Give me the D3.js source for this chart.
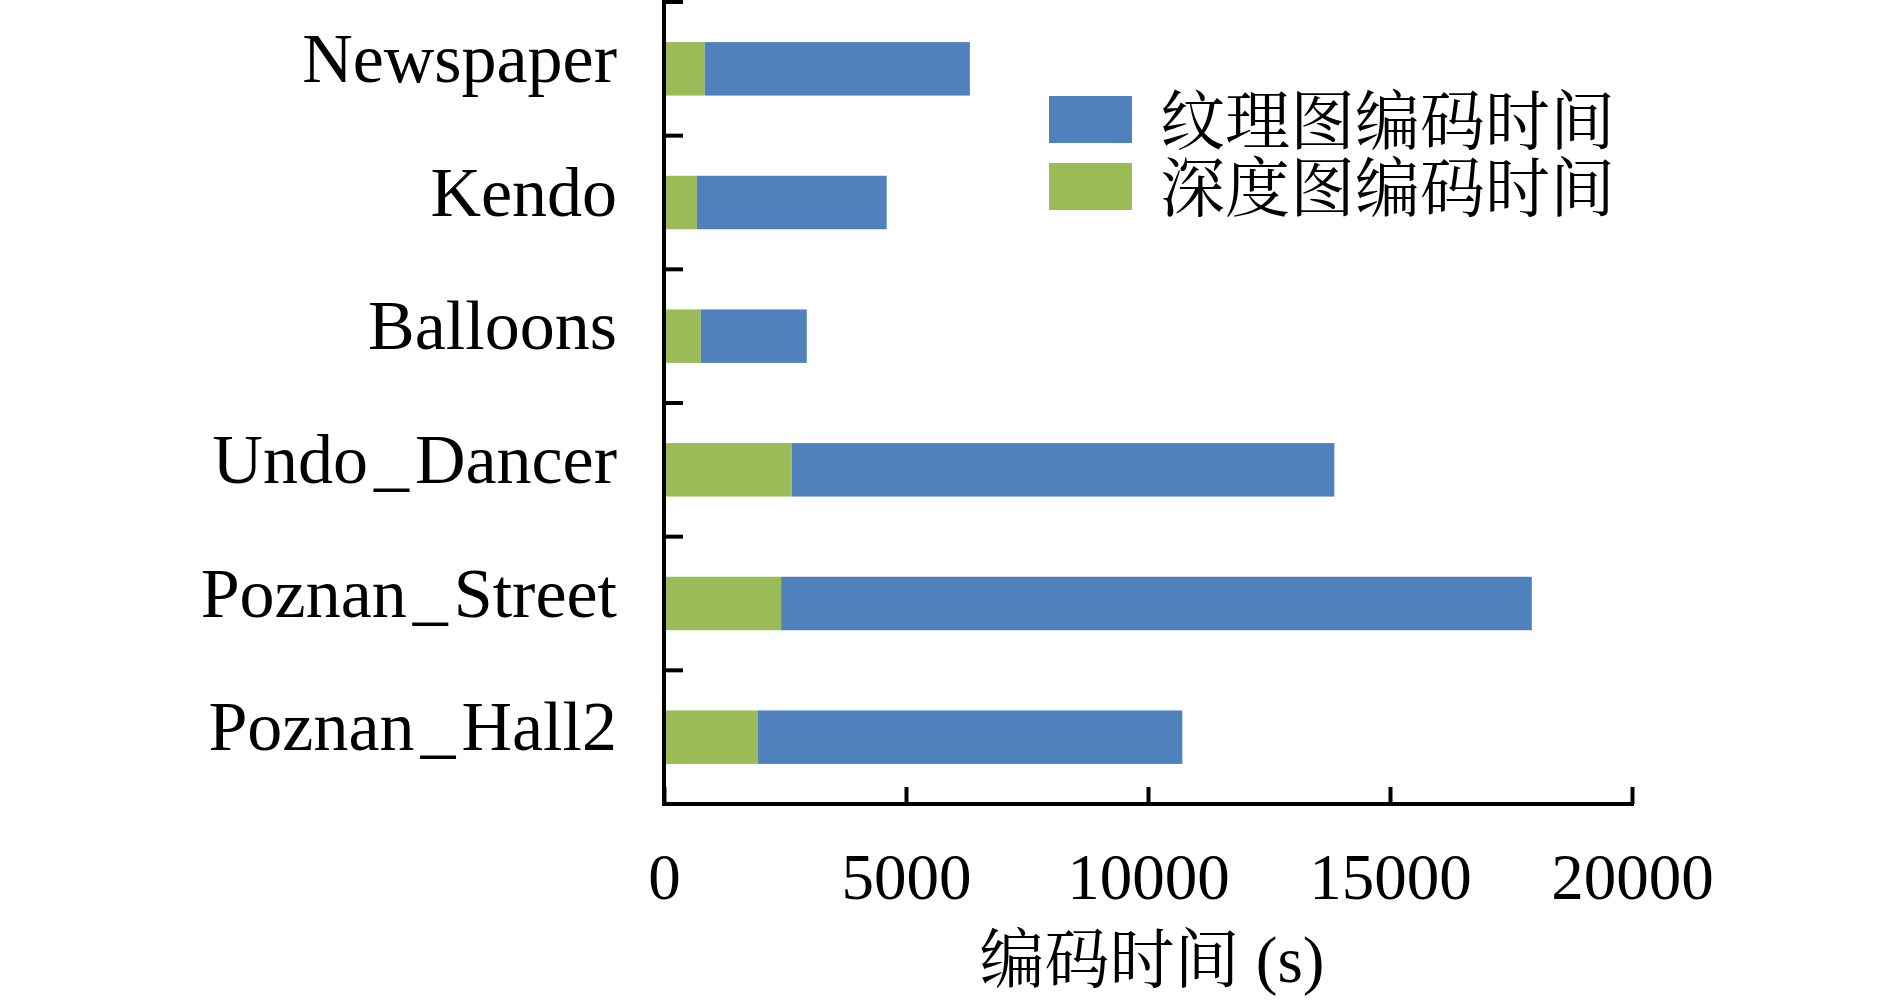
<!DOCTYPE html>
<html>
<head>
<meta charset="utf-8">
<script src="https://cdn.jsdelivr.net/npm/d3@7"></script>
<style>
  body { margin: 0; background: #fff; }
  svg text { fill: #000; }
</style>
</head>
<body>
<div id="chart"></div>
<script>
// sequences, top to bottom
var names = ['Newspaper', 'Kendo', 'Balloons', 'Undo_Dancer', 'Poznan_Street', 'Poznan_Hall2']
// depth map encoding time (s), green, drawn first
var depthTime = [840, 680, 760, 2640, 2420, 1940]
// texture map encoding time (s), blue, stacked after depth
var textureTime = [5480, 3920, 2190, 11210, 15510, 8770]
var xTicks = [0, 5000, 10000, 15000, 20000]
var legendLabels = ['纹理图编码时间', '深度图编码时间']
var xTitle = '编码时间 (s)'

var blue = '#4f81bd'
var green = '#9bbb59'
var latin = '"Liberation Serif", "Noto Serif CJK SC", "Noto Sans CJK SC", serif'

var width = 1890
var height = 1006
// plot area edges (window.top is taken, so no "top" here)
var plotLeft = 664, plotRight = 1632, plotTop = 2, plotBottom = 804

var svg = d3.select('#chart')
    .append('svg')
    .attr('width', width)
    .attr('height', height)

var x = d3.scaleLinear()
    .domain([0, 20000])
    .range([plotLeft, plotRight])

var y = d3.scaleBand()
    .domain(names)
    .range([plotTop, plotBottom])
    .paddingInner(0.6)
    .paddingOuter(0.3)

var data = names.map(function (n, i) {
    return { name: n, depth: depthTime[i], texture: textureTime[i] }
})

// bars: green first, then blue stacked after it
var bars = svg.append('g')
bars.selectAll('rect.depth')
    .data(data)
    .enter().append('rect')
    .attr('class', 'depth')
    .attr('x', x(0))
    .attr('y', function (d) { return y(d.name) })
    .attr('width', function (d) { return x(d.depth) - x(0) })
    .attr('height', y.bandwidth())
    .style('fill', green)
bars.selectAll('rect.texture')
    .data(data)
    .enter().append('rect')
    .attr('class', 'texture')
    .attr('x', function (d) { return x(d.depth) })
    .attr('y', function (d) { return y(d.name) })
    .attr('width', function (d) { return x(d.depth + d.texture) - x(d.depth) })
    .attr('height', y.bandwidth())
    .style('fill', blue)

// x axis, ticks pointing up
var xAxis = d3.axisBottom(x)
    .tickValues(xTicks)
    .tickFormat(d3.format('d'))
    .tickSizeInner(-17)
    .tickSizeOuter(0)
    .tickPadding(49)
var gx = svg.append('g')
    .attr('transform', 'translate(0,' + plotBottom + ')')
    .call(xAxis)
gx.select('.domain')
    .attr('d', 'M' + (plotLeft - 2) + ',0H' + (plotRight + 2))
    .style('stroke', '#000')
    .style('stroke-width', 4)
gx.selectAll('.tick line')
    .style('stroke', '#000')
    .style('stroke-width', 4)
gx.selectAll('.tick text')
    .style('font-family', latin)
    .style('font-size', '65px')

// y axis: labels at band centres, ticks on band boundaries
var yAxis = d3.axisLeft(y)
    .tickSize(0)
    .tickPadding(47)
var gy = svg.append('g')
    .attr('transform', 'translate(' + plotLeft + ',0)')
    .call(yAxis)
gy.select('.domain').remove()
gy.selectAll('.tick text')
    .attr('dy', '0.19em')
    .style('font-family', latin)
    .style('font-size', '70px')
    .each(function (d) {
        // a bit more room round the underscore, like the LaTeX original
        var parts = d.split('_')
        if (parts.length < 2) return
        var t = d3.select(this).text(parts[0])
        t.append('tspan').attr('dx', 6).text('_')
        t.append('tspan').attr('dx', 6).text(parts[1])
    })

var bounds = d3.range(names.length + 1).map(function (i) { return plotTop + i * y.step() })
svg.append('g').selectAll('line')
    .data(bounds)
    .enter().append('line')
    .attr('x1', plotLeft)
    .attr('x2', plotLeft + 19)
    .attr('y1', function (d) { return d })
    .attr('y2', function (d) { return d })
    .style('stroke', '#000')
    .style('stroke-width', 4)
svg.append('line')
    .attr('x1', plotLeft)
    .attr('x2', plotLeft)
    .attr('y1', 0)
    .attr('y2', plotBottom + 2)
    .style('stroke', '#000')
    .style('stroke-width', 4)

// x axis title
svg.append('text')
    .attr('x', (plotLeft + plotRight) / 2 + 4)
    .attr('y', 982)
    .style('text-anchor', 'middle')
    .style('font-family', latin)
    .style('font-size', '65px')
    .text(xTitle)

// legend
var legend = svg.append('g')
    .attr('transform', 'translate(1049,96)')
var items = legend.selectAll('g')
    .data(legendLabels)
    .enter().append('g')
    .attr('transform', function (d, i) { return 'translate(0,' + i * 67 + ')' })
items.append('rect')
    .attr('width', 83)
    .attr('height', 47)
    .style('fill', function (d, i) { return i === 0 ? blue : green })
items.append('text')
    .attr('x', 111)
    .attr('y', 48)
    .style('font-family', '"Noto Serif CJK SC", "Noto Sans CJK SC", serif')
    .style('font-size', '65px')
    .text(function (d) { return d })
</script>
</body>
</html>
